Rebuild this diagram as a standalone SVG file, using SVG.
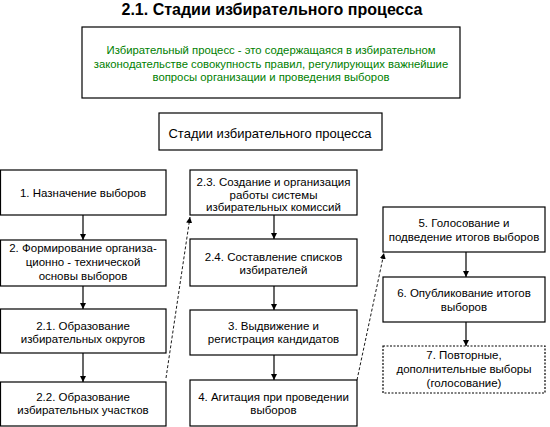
<svg xmlns="http://www.w3.org/2000/svg" width="550" height="427" viewBox="0 0 550 427">
<defs>
<style>
.b{fill:#fff;stroke:#000;stroke-width:1.2}
.d{stroke-dasharray:2 1.5}
.t{font-family:"Liberation Sans",Arial,sans-serif;font-size:11.5px;fill:#000;text-anchor:middle}
.g{fill:#008000;font-size:11.3px}
.c{stroke:#000;stroke-width:1.2;fill:none}
.k{stroke-dasharray:3 2;stroke-width:0.9}
</style>
<marker id="a" viewBox="0 0 10 10" refX="10" refY="5" markerWidth="6" markerHeight="6" markerUnits="userSpaceOnUse" orient="auto"><path d="M0,0L10,5L0,10z" fill="#000"/></marker>
</defs>
<rect width="550" height="427" fill="#fff"/>
<text x="272" y="14.5" style="font-family:'Liberation Sans',Arial,sans-serif;font-size:16px;font-weight:bold;text-anchor:middle">2.1. Стадии избирательного процесса</text>
<g id="definition"><rect class="b" x="82" y="27" width="378" height="71"/>
<text class="t g" x="271" y="54">Избирательный процесс - это содержащаяся в избирательном</text>
<text class="t g" x="271" y="67.5">законодательстве совокупность правил, регулирующих важнейшие</text>
<text class="t g" x="271" y="81">вопросы организации и проведения выборов</text></g>
<g id="stages"><rect class="b" x="159" y="113" width="223" height="37"/>
<text class="t" x="270" y="138" style="font-size:13px">Стадии избирательного процесса</text></g>
<g id="n1"><rect class="b" x="0.5" y="170" width="165.5" height="45"/><text class="t" x="83" y="197">1. Назначение выборов</text></g>
<g id="n2"><rect class="b" x="0.5" y="240" width="165.5" height="46"/><text class="t" x="83" y="252">2. Формирование организа-</text><text class="t" x="83" y="266">ционно - технической</text><text class="t" x="83" y="279.5">основы выборов</text></g>
<g id="n21"><rect class="b" x="0.5" y="309" width="165.5" height="44"/><text class="t" x="83" y="330">2.1. Образование</text><text class="t" x="83" y="343">избирательных округов</text></g>
<g id="n22"><rect class="b" x="0.5" y="382" width="165.5" height="44"/><text class="t" x="83" y="401">2.2. Образование</text><text class="t" x="83" y="414">избирательных участков</text></g>
<g id="n23"><rect class="b" x="190" y="170" width="167" height="45"/><text class="t" x="273.5" y="186">2.3. Создание и организация</text><text class="t" x="273.5" y="198.5">работы системы</text><text class="t" x="273.5" y="211">избирательных комиссий</text></g>
<g id="n24"><rect class="b" x="190" y="239" width="167" height="47"/><text class="t" x="273.5" y="261">2.4. Составление списков</text><text class="t" x="273.5" y="274">избирателей</text></g>
<g id="n3"><rect class="b" x="190" y="310" width="167" height="45"/><text class="t" x="273.5" y="330">3. Выдвижение и</text><text class="t" x="273.5" y="343">регистрация кандидатов</text></g>
<g id="n4"><rect class="b" x="190" y="380" width="167" height="46"/><text class="t" x="273.5" y="401">4. Агитация при проведении</text><text class="t" x="273.5" y="414">выборов</text></g>
<g id="n5"><rect class="b" x="383" y="207" width="162" height="45"/><text class="t" x="464" y="227">5. Голосование и</text><text class="t" x="464" y="241">подведение итогов выборов</text></g>
<g id="n6"><rect class="b" x="383" y="277" width="162" height="45"/><text class="t" x="464" y="297">6. Опубликование итогов</text><text class="t" x="464" y="311">выборов</text></g>
<g id="n7"><rect class="b d" x="383" y="346" width="162" height="47"/><text class="t" x="464" y="359">7. Повторные,</text><text class="t" x="464" y="373">дополнительные выборы</text><text class="t" x="464" y="387">(голосование)</text></g>
<g id="connectors">
<line class="c" x1="83" y1="215" x2="83" y2="240" marker-end="url(#a)"/>
<line class="c" x1="83" y1="286" x2="83" y2="309" marker-end="url(#a)"/>
<line class="c" x1="83" y1="353" x2="83" y2="382" marker-end="url(#a)"/>
<line class="c" x1="274" y1="215" x2="274" y2="239" marker-end="url(#a)"/>
<line class="c" x1="274" y1="286" x2="274" y2="310" marker-end="url(#a)"/>
<line class="c" x1="274" y1="355" x2="274" y2="380" marker-end="url(#a)"/>
<line class="c" x1="466" y1="252" x2="466" y2="277" marker-end="url(#a)"/>
<line class="c" x1="466" y1="322" x2="466" y2="346" marker-end="url(#a)"/>
<line class="c k" x1="166" y1="378" x2="190" y2="217" marker-end="url(#a)"/>
<line class="c k" x1="357" y1="380" x2="384" y2="253" marker-end="url(#a)"/>
</g>
</svg>
